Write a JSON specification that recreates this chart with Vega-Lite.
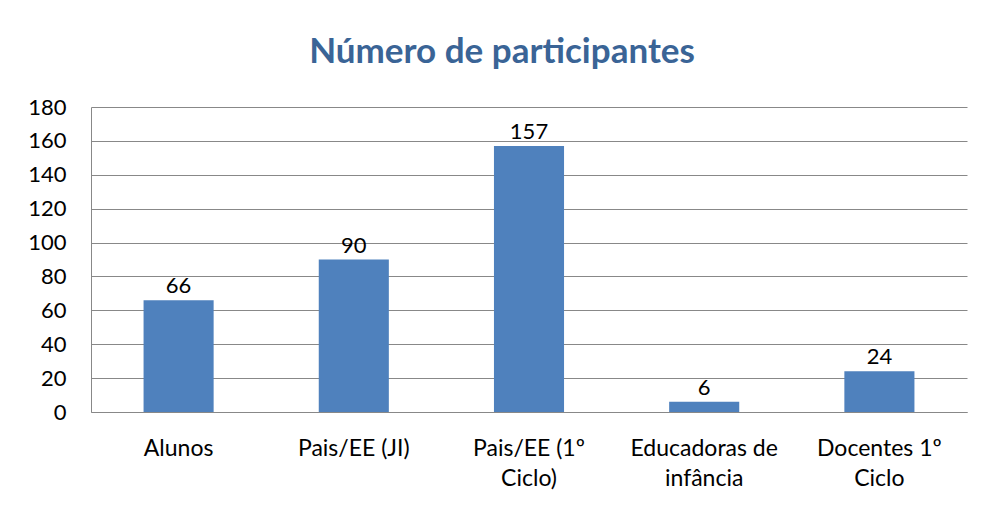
{
  "$schema": "https://vega.github.io/schema/vega-lite/v6.json",
  "width": 876,
  "height": 305,
  "autosize": {"type": "none"},
  "padding": {"left": 91, "top": 107, "right": 18, "bottom": 93},
  "background": "white",
  "title": {
    "text": "Número de participantes",
    "anchor": "middle",
    "frame": "group",
    "dx": -27,
    "offset": -2,
    "baseline": "alphabetic",
    "font": "Lato",
    "fontSize": 35,
    "fontWeight": "bold",
    "color": "#3A6496"
  },
  "data": {
    "values": [
      {"grupo": "Alunos", "n": 66},
      {"grupo": "Pais/EE (JI)", "n": 90},
      {"grupo": "Pais/EE (1º Ciclo)", "n": 157},
      {"grupo": "Educadoras de infância", "n": 6},
      {"grupo": "Docentes 1º Ciclo", "n": 24}
    ]
  },
  "config": {
    "view": {"stroke": null},
    "font": "Lato"
  },
  "encoding": {
    "x": {
      "field": "grupo",
      "type": "nominal",
      "sort": null,
      "scale": {"paddingInner": 0.6, "paddingOuter": 0.3},
      "axis": {
        "title": null,
        "labelAngle": 0,
        "ticks": false,
        "domainColor": "#888888",
        "labelFont": "Lato",
        "labelFontSize": 23,
        "labelColor": "#000000",
        "labelPadding": 25,
        "labelLineHeight": 30,
        "labelBaseline": "top",
        "labelExpr": "length(datum.label) > 12 ? [substring(datum.label, 0, lastindexof(datum.label, ' ')), substring(datum.label, lastindexof(datum.label, ' ') + 1)] : datum.label"
      }
    },
    "y": {
      "field": "n",
      "type": "quantitative",
      "scale": {"domain": [0, 180], "nice": false},
      "axis": {
        "title": null,
        "values": [0, 20, 40, 60, 80, 100, 120, 140, 160, 180],
        "ticks": false,
        "grid": true,
        "gridColor": "#888888",
        "gridOpacity": 1,
        "domainColor": "#888888",
        "labelFont": "Lato",
        "labelFontSize": 22,
        "labelColor": "#000000",
        "labelPadding": 25
      }
    }
  },
  "layer": [
    {"mark": {"type": "bar", "color": "#4F81BD"}},
    {
      "mark": {"type": "text", "baseline": "alphabetic", "dy": -7, "font": "Lato", "fontSize": 22, "color": "#000000"},
      "encoding": {"text": {"field": "n", "type": "quantitative"}}
    }
  ]
}
